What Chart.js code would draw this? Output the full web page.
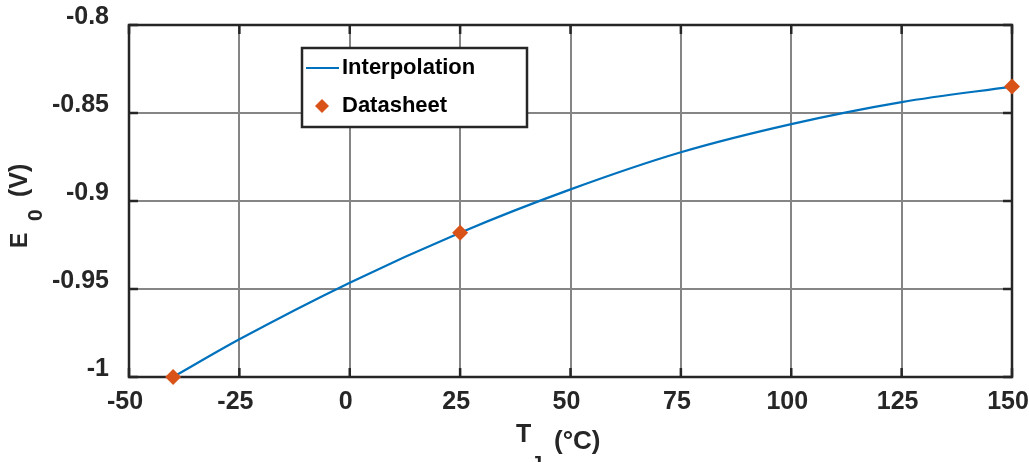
<!DOCTYPE html>
<html>
<head>
<meta charset="utf-8">
<script src="https://cdn.jsdelivr.net/npm/chart.js@4"></script>
<style>
  html, body { margin: 0; padding: 0; background: #fff; }
  #wrap { width: 1029px; height: 462px; }
</style>
</head>
<body>
<div id="wrap"><canvas id="e0Chart"></canvas></div>
<script>
// values
const tempInterp = [-40, -25, 0, 25, 50, 75, 100, 125, 150];
const e0Interp = [-1.0, -0.9786, -0.9464, -0.918, -0.8934, -0.8723, -0.8563, -0.8438, -0.835];
const tempSheet = [-40, 25, 150];
const e0Sheet = [-1.0, -0.918, -0.835];
const xTicks = [-50, -25, 0, 25, 50, 75, 100, 125, 150];
const yTicks = [-1, -0.95, -0.9, -0.85, -0.8];

const BLUE = '#0072BD';
const ORANGE = '#D95319';
const DARK = '#262626';
const FONT = '"Liberation Sans", Arial, sans-serif';

// box, inner tick marks, axis titles, legend
const framePlugin = {
    id: 'frame',
    beforeDatasetsDraw(chart) {
        const { ctx, chartArea: a, scales } = chart;
        ctx.save();
        ctx.strokeStyle = DARK;
        ctx.lineWidth = 2.5;
        ctx.beginPath();
        xTicks.forEach(v => {
            const px = scales.x.getPixelForValue(v);
            ctx.moveTo(px, a.bottom); ctx.lineTo(px, a.bottom - 9);
            ctx.moveTo(px, a.top); ctx.lineTo(px, a.top + 9);
        });
        yTicks.forEach(v => {
            const py = scales.y.getPixelForValue(v);
            ctx.moveTo(a.left, py); ctx.lineTo(a.left + 9, py);
            ctx.moveTo(a.right, py); ctx.lineTo(a.right - 9, py);
        });
        ctx.stroke();
        ctx.strokeRect(a.left, a.top, a.right - a.left, a.bottom - a.top);
        ctx.restore();
    },
    afterDraw(chart) {
        const { ctx } = chart;
        ctx.save();
        ctx.fillStyle = DARK;
        ctx.textBaseline = 'alphabetic';
        ctx.textAlign = 'left';

        // x title: T_J (°C)
        ctx.font = 'bold 25px ' + FONT;
        ctx.fillText('T', 516, 442);
        ctx.font = 'bold 20px ' + FONT;
        ctx.fillText('J', 531, 470);
        ctx.font = 'bold 26px ' + FONT;
        ctx.fillText('(°C)', 554, 449);

        // y title: E_0 (V), rotated
        ctx.save();
        ctx.translate(27, 248);
        ctx.rotate(-Math.PI / 2);
        ctx.font = 'bold 23px ' + FONT;
        ctx.fillText('E', 0, 0);
        ctx.font = 'bold 21px ' + FONT;
        ctx.fillText('0', 27, 15);
        ctx.font = 'bold 25px ' + FONT;
        ctx.fillText('(V)', 51, 0);
        ctx.restore();

        // legend
        ctx.fillStyle = '#fff';
        ctx.fillRect(302, 48, 225, 79);
        ctx.strokeStyle = DARK;
        ctx.lineWidth = 2.5;
        ctx.strokeRect(302, 48, 225, 79);
        ctx.strokeStyle = BLUE;
        ctx.lineWidth = 2;
        ctx.beginPath();
        ctx.moveTo(306, 68); ctx.lineTo(339, 68);
        ctx.stroke();
        ctx.fillStyle = ORANGE;
        ctx.beginPath();
        ctx.moveTo(322, 99); ctx.lineTo(329, 106); ctx.lineTo(322, 113); ctx.lineTo(315, 106);
        ctx.closePath();
        ctx.fill();
        ctx.fillStyle = '#000';
        ctx.font = 'bold 22px ' + FONT;
        ctx.fillText('Interpolation', 342, 74);
        ctx.fillText('Datasheet', 342, 112);
        ctx.restore();
    }
};

new Chart(document.getElementById('e0Chart'), {
    type: 'scatter',
    data: {
        datasets: [{
            label: 'Interpolation',
            data: tempInterp.map((t, i) => ({ x: t, y: e0Interp[i] })),
            showLine: true,
            borderColor: BLUE,
            borderWidth: 2.2,
            pointRadius: 0,
            cubicInterpolationMode: 'monotone',
            fill: false,
            order: 2
        }, {
            label: 'Datasheet',
            data: tempSheet.map((t, i) => ({ x: t, y: e0Sheet[i] })),
            showLine: false,
            pointStyle: 'rectRot',
            pointRadius: 8,
            pointBackgroundColor: ORANGE,
            pointBorderColor: ORANGE,
            pointBorderWidth: 0,
            clip: false,
            order: 1
        }]
    },
    options: {
        responsive: true,
        maintainAspectRatio: false,
        animation: false,
        layout: { padding: { left: 0, top: 25, right: 17, bottom: 0 } },
        plugins: {
            legend: { display: false },
            tooltip: { enabled: false }
        },
        scales: {
            x: {
                type: 'linear',
                min: -50,
                max: 150,
                afterBuildTicks: s => { s.ticks = xTicks.map(v => ({ value: v })); },
                afterFit: s => { s.height = 85; s.paddingLeft = 0; s.paddingRight = 0; },
                grid: { color: '#858585', lineWidth: 2, drawTicks: false },
                border: { display: false },
                ticks: {
                    color: DARK,
                    font: { family: FONT, size: 25, weight: 'bold' },
                    padding: 10,
                    labelOffset: -4,
                    maxRotation: 0,
                    callback: v => String(v)
                }
            },
            y: {
                type: 'linear',
                min: -1,
                max: -0.8,
                afterBuildTicks: s => { s.ticks = yTicks.map(v => ({ value: v })); },
                afterFit: s => { s.width = 129; s.paddingTop = 0; s.paddingBottom = 0; },
                grid: { color: '#858585', lineWidth: 2, drawTicks: false },
                border: { display: false },
                ticks: {
                    color: DARK,
                    font: { family: FONT, size: 25, weight: 'bold' },
                    padding: 20,
                    labelOffset: -8,
                    callback: v => String(Number(v.toFixed(2)))
                }
            }
        }
    },
    plugins: [framePlugin]
});
</script>
</body>
</html>
